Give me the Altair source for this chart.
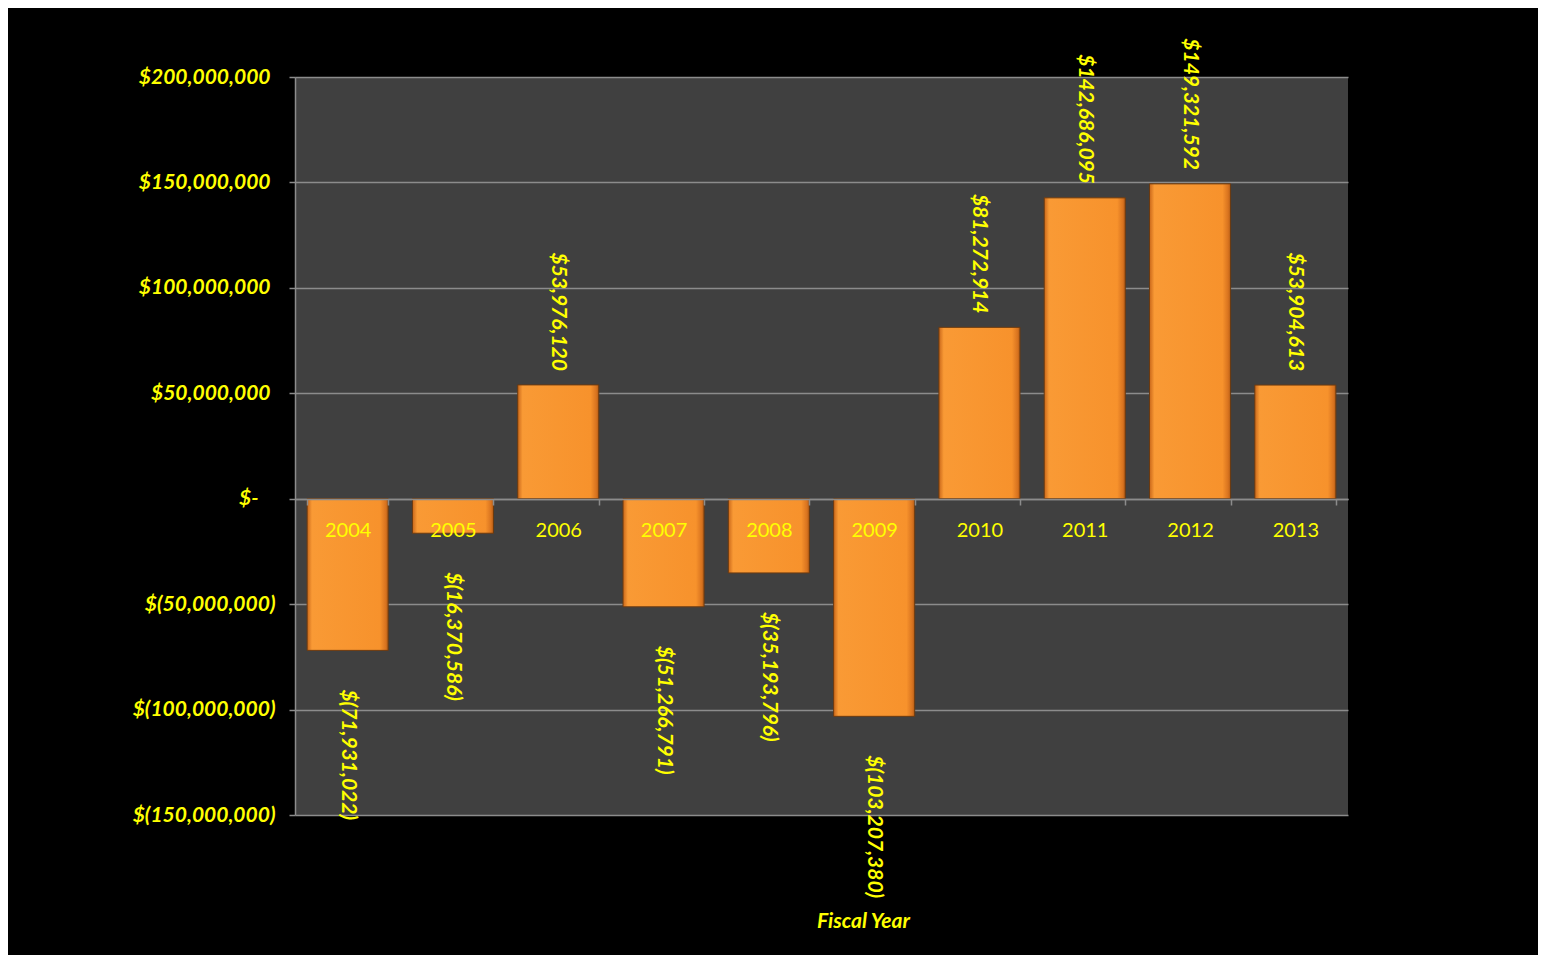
import altair as alt
import pandas as pd

years = ["2004", "2005", "2006", "2007", "2008", "2009", "2010", "2011", "2012", "2013"]
values = [-71931022, -16370586, 53976120, -51266791, -35193796, -103207380,
          81272914, 142686095, 149321592, 53904613]
value_labels = ["$(71,931,022)", "$(16,370,586)", "$53,976,120", "$(51,266,791)",
                "$(35,193,796)", "$(103,207,380)", "$81,272,914", "$142,686,095",
                "$149,321,592", "$53,904,613"]
y_ticks = [200000000, 150000000, 100000000, 50000000, 0,
           -50000000, -100000000, -150000000]
y_tick_labels = ["$200,000,000", "$150,000,000", "$100,000,000",
                 "$50,000,000", "$-", "$(50,000,000)",
                 "$(100,000,000)", "$(150,000,000)"]

df = pd.DataFrame({"year": years, "value": values, "label": value_labels})

YELLOW = "#FFFF00"
GRID = "#8c8c8c"
FONT = "Lato"

expr = "''"
for v, s in reversed(list(zip(y_ticks, y_tick_labels))):
    expr = f"datum.value == {v} ? '{s}' : ({expr})"

x_enc = alt.X(
    "year:N",
    sort=years,
    scale=alt.Scale(paddingInner=0.23, paddingOuter=0.115),
    axis=alt.Axis(
        orient="bottom", offset=-316, grid=False, zindex=1,
        domainColor=GRID, domainWidth=1.5, tickColor=GRID, tickWidth=1.5,
        tickSize=6, tickBand="extent",
        labelColor=YELLOW, labelFont=FONT, labelFontSize=20, labelAngle=0,
        labelPadding=15,
        title="Fiscal Year", titleColor=YELLOW, titleFont=FONT, titleFontSize=21,
        titleFontWeight="bold", titleFontStyle="italic",
        titleX=568, titleY=422, titleBaseline="middle", titleAlign="center",
    ),
)

y_scale = alt.Scale(domain=[-150000000, 200000000], nice=False, zero=False)

bars = alt.Chart(df).mark_bar(
    fill=alt.Gradient(
        gradient="linear", x1=0, x2=1, y1=0, y2=0,
        stops=[
            alt.GradientStop(color="#C9671A", offset=0),
            alt.GradientStop(color="#F99A35", offset=0.06),
            alt.GradientStop(color="#F7922C", offset=0.9),
            alt.GradientStop(color="#D8731F", offset=0.97),
            alt.GradientStop(color="#B15A14", offset=1),
        ],
    ),
    stroke="#6b3a10", strokeWidth=1,
).encode(
    x=x_enc,
    y=alt.Y(
        "value:Q", scale=y_scale,
        axis=alt.Axis(
            values=y_ticks, labelExpr=expr, title=None,
            domainColor=GRID, domainWidth=1.5, tickColor=GRID, tickWidth=1.5,
            tickSize=6, gridColor=GRID, gridWidth=1.5,
            labelColor=YELLOW, labelFont=FONT, labelFontSize=21,
            labelFontWeight="bold", labelFontStyle="italic",
            labelPadding={
                "condition": [
                    {"test": "datum.value < 0", "value": 14},
                    {"test": "datum.value == 0", "value": 31},
                ],
                "value": 19,
            },
        ),
    ),
)

text_style = dict(angle=90, baseline="middle", color=YELLOW, font=FONT,
                  fontSize=21, fontWeight="bold", fontStyle="italic")

pos_labels = alt.Chart(df).transform_filter("datum.value > 0").transform_calculate(
    ly="datum.value + 6600000"
).mark_text(align="right", **text_style).encode(
    x=alt.X("year:N", sort=years),
    y=alt.Y("ly:Q", scale=y_scale),
    text="label:N",
)

neg_labels = alt.Chart(df).transform_filter("datum.value < 0").transform_calculate(
    ly="datum.value - 18500000"
).mark_text(align="left", **text_style).encode(
    x=alt.X("year:N", sort=years),
    y=alt.Y("ly:Q", scale=y_scale),
    text="label:N",
)

chart = alt.layer(bars, pos_labels, neg_labels).properties(
    width=1053, height=738,
    background="black",
    autosize=alt.AutoSizeParams(type="none"),
    padding={"left": 287, "top": 69, "right": 190, "bottom": 140},
).configure_view(fill="#404040", strokeWidth=0)

chart.save("out.html", embed_options={"renderer": "svg", "actions": False})
